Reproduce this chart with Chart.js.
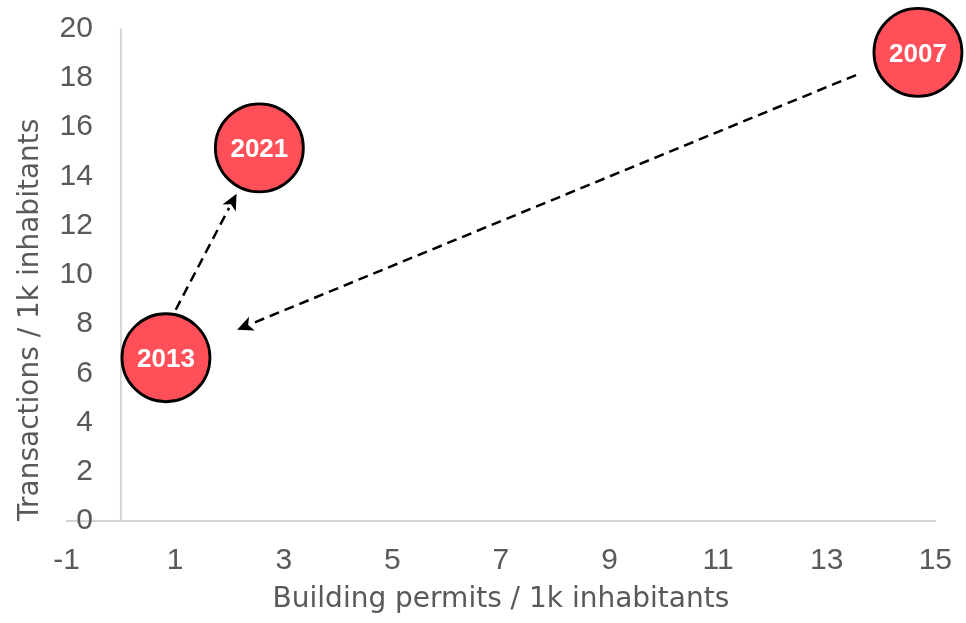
<!DOCTYPE html>
<html>
<head>
<meta charset="utf-8">
<script src="https://cdn.jsdelivr.net/npm/chart.js@4"></script>
<style>
body{margin:0;background:#fff;}
#chart{display:block;}
</style>
</head>
<body>
<canvas id="chart" width="966" height="623"></canvas>
<script>
// data
const years = ["2007", "2013", "2021"];
const permits = [14.68, 0.83, 2.55];
const transactions = [19.03, 6.63, 15.15];
const xTicks = [-1, 1, 3, 5, 7, 9, 11, 13, 15];
const yTicks = [0, 2, 4, 6, 8, 10, 12, 14, 16, 18, 20];

// arrows: [x, y] start and end in data units
const arrowStart = [[1.01, 8.58], [13.54, 18.11]];
const arrowEnd = [[2.13, 13.29], [2.14, 7.77]];

const tickColor = "#595959";

// vertical axis line crossing at x = 0
const crossLine = {
  id: "crossLine",
  beforeDatasetsDraw(chart){
    const c = chart.ctx, xs = chart.scales.x, ys = chart.scales.y;
    const px = xs.getPixelForValue(0);
    c.save();
    c.strokeStyle = "#d4d4d4";
    c.lineWidth = 2;
    c.beginPath();
    c.moveTo(px, ys.getPixelForValue(20));
    c.lineTo(px, ys.getPixelForValue(0));
    c.stroke();
    c.restore();
  }
};

const arrows = {
  id: "arrows",
  afterDatasetsDraw(chart){
    const c = chart.ctx, xs = chart.scales.x, ys = chart.scales.y;
    c.save();
    c.strokeStyle = "#000";
    c.fillStyle = "#000";
    c.lineWidth = 2.5;
    for(let i = 0; i < arrowStart.length; i++){
      const x1 = xs.getPixelForValue(arrowStart[i][0]), y1 = ys.getPixelForValue(arrowStart[i][1]);
      const x2 = xs.getPixelForValue(arrowEnd[i][0]), y2 = ys.getPixelForValue(arrowEnd[i][1]);
      const a = Math.atan2(y2 - y1, x2 - x1);
      const cs = Math.cos(a), sn = Math.sin(a);
      const head = 16, half = 7.5;
      c.setLineDash([10, 6]);
      c.beginPath();
      c.moveTo(x1, y1);
      c.lineTo(x2 - cs * head, y2 - sn * head);
      c.stroke();
      c.setLineDash([]);
      c.beginPath();
      c.moveTo(x2, y2);
      c.lineTo(x2 - cs * head - sn * half, y2 - sn * head + cs * half);
      c.lineTo(x2 - cs * head * 0.75, y2 - sn * head * 0.75);
      c.lineTo(x2 - cs * head + sn * half, y2 - sn * head - cs * half);
      c.closePath();
      c.fill();
    }
    c.restore();
  }
};

// year labels inside the bubbles
const yearLabels = {
  id: "yearLabels",
  afterDatasetsDraw(chart){
    const c = chart.ctx;
    const meta = chart.getDatasetMeta(0);
    c.save();
    c.fillStyle = "#fff";
    c.font = "bold 26px 'Liberation Sans'";
    c.textAlign = "center";
    c.textBaseline = "middle";
    meta.data.forEach((pt, i) => {
      c.fillText(years[i], pt.x, pt.y + 2);
    });
    c.restore();
  }
};

new Chart(document.getElementById("chart"), {
  type: "scatter",
  data: {
    datasets: [{
      data: years.map((y, i) => ({x: permits[i], y: transactions[i]})),
      pointRadius: 44,
      pointHoverRadius: 44,
      backgroundColor: "#FF505A",
      borderColor: "#000",
      borderWidth: 2.8,
      clip: false
    }]
  },
  options: {
    responsive: false,
    animation: false,
    events: [],
    layout: {autoPadding: false, padding: {top: 28.5, right: 28, bottom: 0, left: 0}},
    plugins: {legend: {display: false}, tooltip: {enabled: false}},
    scales: {
      x: {
        type: "linear",
        min: -1,
        max: 15,
        afterBuildTicks(scale){ scale.ticks = xTicks.map(v => ({value: v})); },
        afterFit(scale){ scale.height = 102; },
        grid: {display: false},
        border: {color: "#d4d4d4", width: 2},
        ticks: {color: tickColor, font: {family: "'Liberation Sans'", size: 30}, padding: 14},
        title: {
          display: true,
          text: "Building permits / 1k inhabitants",
          color: tickColor,
          font: {family: "'DejaVu Sans'", size: 28},
          padding: {top: 0, bottom: 6}
        }
      },
      y: {
        type: "linear",
        min: 0,
        max: 20,
        afterBuildTicks(scale){ scale.ticks = yTicks.map(v => ({value: v})); },
        afterFit(scale){ scale.width = 66.6; },
        grid: {display: false},
        border: {display: false},
        ticks: {color: tickColor, font: {family: "'Liberation Sans'", size: 30}, mirror: true, crossAlign: "far", padding: -7},
        title: {
          display: true,
          text: "Transactions / 1k inhabitants",
          align: "start",
          color: tickColor,
          font: {family: "'DejaVu Sans'", size: 28},
          padding: {top: 14, bottom: 0}
        }
      }
    }
  },
  plugins: [crossLine, arrows, yearLabels]
});
</script>
</body>
</html>
